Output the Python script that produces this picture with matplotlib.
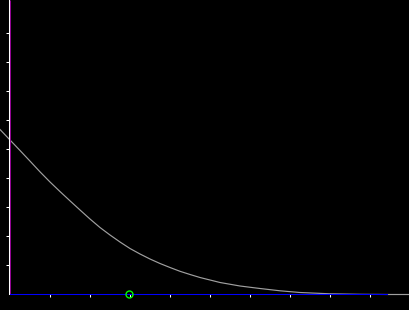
import matplotlib
matplotlib.use('Agg')
import matplotlib.pyplot as plt

# Curve samples (axis units)
curve_x = [-0.25, 0.0, 0.25, 0.5, 0.75, 1.0, 1.25, 1.5, 1.75, 2.0,
           2.25, 2.5, 2.75, 3.0, 3.25, 3.5, 3.75, 4.0, 4.25, 4.5,
           4.75, 5.25, 5.75, 6.25, 6.75, 7.25, 8.0, 8.75, 9.5, 10.0]
curve_y = [5.690, 5.328, 4.966, 4.600, 4.230, 3.880, 3.550, 3.230, 2.914, 2.603,
           2.310, 2.052, 1.810, 1.586, 1.397, 1.224, 1.069, 0.931, 0.800, 0.690,
           0.586, 0.414, 0.293, 0.207, 0.128, 0.069, 0.024, 0.007, 0.0, 0.0]

# Marked point on the x axis
marker_x = [2.975]
marker_y = [0.0]

x_ticks = [1, 2, 3, 4, 5, 6, 7, 8, 9]
y_ticks = [1, 2, 3, 4, 5, 6, 7, 8, 9]
x_axis_end = 9.425

fig = plt.figure(figsize=(4.1, 3.1), dpi=100, facecolor='black')
ax = fig.add_axes([0, 0, 1, 1], facecolor='black')
ax.set_xlim(-0.25, 10.0)
ax.set_ylim(-0.5345, 10.155)

# curve
ax.plot(curve_x, curve_y, color='#a0a0a0', linewidth=0.85, zorder=2)

# axes lines
for side in ['top', 'right']:
    ax.spines[side].set_visible(False)
ax.spines['left'].set_position(('data', -0.0125))
ax.spines['left'].set_color('white')
ax.spines['left'].set_linewidth(0.75)
ax.spines['left'].set_bounds(0, 10.155)
ax.spines['left'].set_zorder(3)
ax.vlines(0.0125, 0, 10.155, color='#900090', linewidth=0.75, zorder=3)
ax.spines['bottom'].set_position(('data', 0))
ax.spines['bottom'].set_color('#0000ff')
ax.spines['bottom'].set_linewidth(0.75)
ax.spines['bottom'].set_bounds(0, x_axis_end)
ax.spines['bottom'].set_zorder(3)

ax.set_xticks(x_ticks)
ax.set_yticks(y_ticks)
ax.set_xticklabels([])
ax.set_yticklabels([])
ax.tick_params(axis='x', direction='out', length=2.0, width=0.75, color='white')
ax.tick_params(axis='y', direction='out', length=2.0, width=0.75, color='white')

# green hollow marker
ax.plot(marker_x, marker_y, marker='o', markersize=5, markerfacecolor='none',
        markeredgecolor='#00ff00', markeredgewidth=1.0, linestyle='none',
        zorder=4, clip_on=False)

plt.savefig('out.png', dpi=100, facecolor='black')
plt.close()
